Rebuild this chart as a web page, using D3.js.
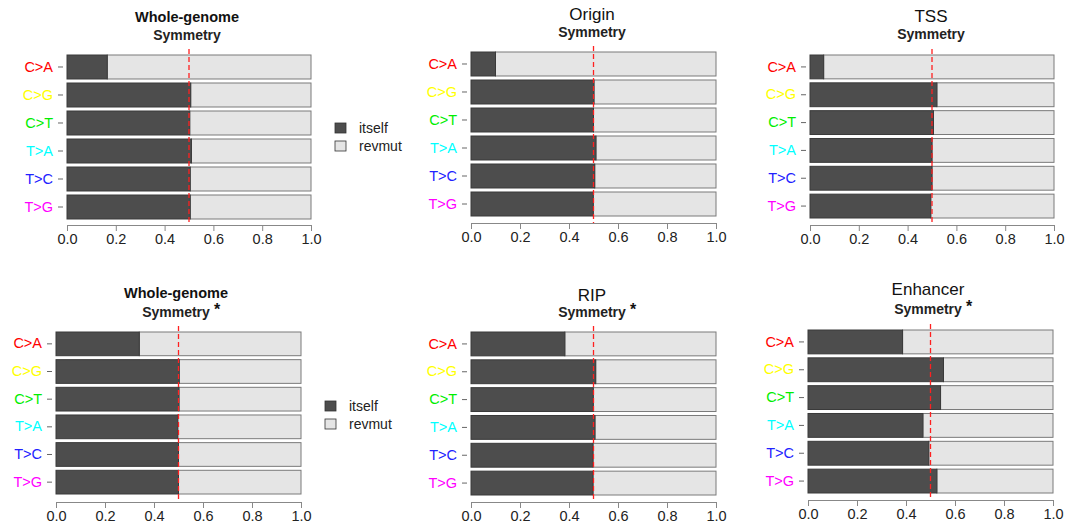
<!DOCTYPE html>
<html>
<head>
<meta charset="utf-8">
<script src="https://cdn.jsdelivr.net/npm/d3@7"></script>
<style>
  html, body { margin: 0; padding: 0; background: #fff; }
  svg { display: block; font-family: "Liberation Sans", Arial, Helvetica, sans-serif; }
</style>
</head>
<body>
<svg id="chart" width="1066" height="529"></svg>
<script>
// Mutation classes (top to bottom) and their label colours
const categories = ["C>A", "C>G", "C>T", "T>A", "T>C", "T>G"];
const categoryColors = ["#ff0000", "#ffff00", "#00ee00", "#00ffff", "#2222ff", "#ff00ff"];

// Fraction of "itself" per mutation class; "revmut" is the remainder to 1
const wholeGenomeA = [0.165, 0.507, 0.503, 0.510, 0.505, 0.505];
const originVals   = [0.100, 0.502, 0.500, 0.510, 0.505, 0.499];
const tssVals      = [0.056, 0.520, 0.506, 0.500, 0.500, 0.495];
const wholeGenomeB = [0.340, 0.503, 0.502, 0.497, 0.500, 0.500];
const ripVals      = [0.383, 0.509, 0.499, 0.506, 0.498, 0.498];
const enhancerVals = [0.386, 0.553, 0.541, 0.469, 0.493, 0.526];

const xTicks = [0, 0.2, 0.4, 0.6, 0.8, 1.0];
const legendLabels = ["itself", "revmut"];
const symmetryLine = 0.5;

const colItself = "#4d4d4d";
const colRevmut = "#e5e5e5";

// Panel layout
const panels = [
  { title: "Whole-genome", boldTitle: true,  star: false, values: wholeGenomeA,
    x0: 67,  x1: 311,  y0: 55,  y1: 219, axisY: 225, t1: 17,  t2: 35,  tx: 187 },
  { title: "Origin",       boldTitle: false, star: false, values: originVals,
    x0: 471, x1: 716,  y0: 52,  y1: 216, axisY: 223, t1: 14,  t2: 32,  tx: 592 },
  { title: "TSS",          boldTitle: false, star: false, values: tssVals,
    x0: 810, x1: 1054, y0: 55,  y1: 218, axisY: 225, t1: 16,  t2: 34,  tx: 931 },
  { title: "Whole-genome", boldTitle: true,  star: true,  values: wholeGenomeB,
    x0: 56,  x1: 301,  y0: 332, y1: 494, axisY: 502, t1: 293, t2: 312, tx: 176 },
  { title: "RIP",          boldTitle: false, star: true,  values: ripVals,
    x0: 471, x1: 716,  y0: 332, y1: 495, axisY: 502, t1: 295, t2: 312, tx: 592 },
  { title: "Enhancer",     boldTitle: false, star: true,  values: enhancerVals,
    x0: 808, x1: 1053, y0: 330, y1: 493, axisY: 500, t1: 289, t2: 309, tx: 928 }
];

const svg = d3.select("#chart");

panels.forEach(p => {
  const g = svg.append("g");
  const x = d3.scaleLinear().domain([0, 1]).range([p.x0, p.x1]);
  const y = d3.scaleBand().domain(categories).range([p.y0, p.y1])
    .paddingInner(0.143).paddingOuter(0);

  const rows = categories.map((c, i) => ({ cat: c, v: p.values[i], color: categoryColors[i] }));

  // revmut (remainder) bars
  g.selectAll("rect.rev").data(rows).join("rect")
    .attr("class", "rev")
    .attr("x", d => x(d.v)).attr("width", d => x(1) - x(d.v))
    .attr("y", d => y(d.cat)).attr("height", y.bandwidth())
    .attr("fill", colRevmut).attr("stroke", "#7a7a7a").attr("stroke-width", 1);

  // itself bars
  g.selectAll("rect.own").data(rows).join("rect")
    .attr("class", "own")
    .attr("x", x(0)).attr("width", d => x(d.v) - x(0))
    .attr("y", d => y(d.cat)).attr("height", y.bandwidth())
    .attr("fill", colItself).attr("stroke", "#3a3a3a").attr("stroke-width", 1);

  // category axis
  const yAxis = d3.axisLeft(y).tickSize(5).tickPadding(5);
  const ya = g.append("g").attr("transform", `translate(${p.x0 - 4},0)`).call(yAxis);
  ya.select(".domain").remove();
  ya.selectAll(".tick line").attr("stroke", "#666");
  ya.selectAll(".tick text")
    .attr("font-size", 14.5)
    .attr("fill", (d, i) => categoryColors[i]);

  // value axis
  const xAxis = d3.axisBottom(x).tickValues(xTicks).tickFormat(d3.format(".1f"))
    .tickSize(6).tickSizeOuter(0).tickPadding(3);
  const xa = g.append("g").attr("transform", `translate(0,${p.axisY})`).call(xAxis);
  xa.select(".domain").attr("stroke", "#888");
  xa.selectAll(".tick line").attr("stroke", "#888");
  xa.selectAll(".tick text").attr("font-size", 14.5).attr("fill", "#222");

  // symmetry reference line
  g.append("line")
    .attr("x1", x(symmetryLine)).attr("x2", x(symmetryLine))
    .attr("y1", p.y0 - 6).attr("y2", p.axisY)
    .attr("stroke", "#ff2020").attr("stroke-width", 1.3)
    .attr("stroke-dasharray", "5,3");

  // titles
  g.append("text").attr("x", p.tx).attr("y", p.t1)
    .attr("text-anchor", "middle").attr("dominant-baseline", "central")
    .attr("font-size", p.boldTitle ? 14.5 : 17)
    .attr("font-weight", p.boldTitle ? "bold" : "normal")
    .attr("fill", "#111")
    .text(p.title);
  const sub = g.append("text").attr("x", p.tx).attr("y", p.t2)
    .attr("text-anchor", "middle").attr("dominant-baseline", "central")
    .attr("font-size", 14).attr("font-weight", "bold").attr("fill", "#222")
    .text("Symmetry");
  if (p.star) {
    const bb = sub.node().getBBox();
    g.append("text").attr("x", bb.x + bb.width + 4).attr("y", p.t2 - 3)
      .attr("dominant-baseline", "central")
      .attr("font-size", 16).attr("font-weight", "bold").attr("fill", "#111")
      .text("*");
  }
});

// legends
function drawLegend(lx, ly) {
  const lg = svg.append("g").attr("transform", `translate(${lx},${ly})`);
  const fills = [colItself, colRevmut];
  legendLabels.forEach((lab, i) => {
    lg.append("rect").attr("x", 0).attr("y", i * 18 - 5)
      .attr("width", 11).attr("height", 10)
      .attr("fill", fills[i]).attr("stroke", "#333").attr("stroke-width", 0.8);
    lg.append("text").attr("x", 24).attr("y", i * 18)
      .attr("dominant-baseline", "central")
      .attr("font-size", 14).attr("fill", "#222").text(lab);
  });
}
drawLegend(335, 128);
drawLegend(325, 406);
</script>
</body>
</html>
